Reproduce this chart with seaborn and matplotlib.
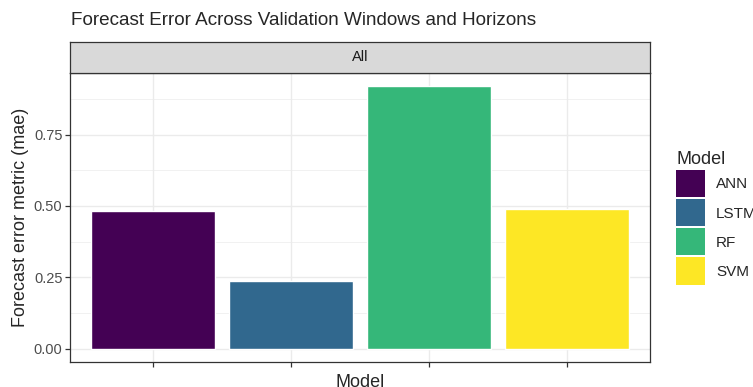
import pandas as pd
import matplotlib.pyplot as plt
import seaborn as sns
from matplotlib.patches import Patch

# valores
models = ['ANN', 'LSTM', 'RF', 'SVM']
mae = [0.483, 0.238, 0.919, 0.489]
colors = ['#440154', '#31688E', '#35B779', '#FDE725']

df = pd.DataFrame({'Model': models, 'mae': mae})

sns.set_style('white')
plt.rcParams['font.family'] = ['Liberation Sans', 'DejaVu Sans']

fig = plt.figure(figsize=(7.53, 3.87), dpi=100)
ax = fig.add_axes([0.093, 0.0646, 0.77, 0.7464])
strip = fig.add_axes([0.093, 0.811, 0.77, 0.081])

sns.barplot(data=df, x='Model', y='mae', hue='Model', palette=colors,
            width=0.9, dodge=False, legend=False, ax=ax, saturation=1)

ax.set_xlim(-0.6, 3.6)
ax.set_ylim(-0.046, 0.965)
ax.set_yticks([0, 0.25, 0.5, 0.75])
ax.set_yticklabels(['0.00', '0.25', '0.50', '0.75'])
ax.set_yticks([0.125, 0.375, 0.625, 0.875], minor=True)
ax.set_xticks(range(4))
ax.set_xticklabels([])
ax.set_axisbelow(True)
ax.grid(True, which='major', color='#EBEBEB', lw=1.0)
ax.grid(True, which='minor', axis='y', color='#EBEBEB', lw=0.5)
for s in ax.spines.values():
    s.set_color('#333333')
    s.set_linewidth(0.9)
ax.tick_params(axis='both', which='major', length=3.5, color='#333333', width=0.9,
               labelsize=10.5, labelcolor='#4D4D4D', bottom=True, left=True, pad=2)
ax.tick_params(which='minor', length=0)
ax.set_xlabel('Model', fontsize=13, labelpad=3)
ax.set_ylabel('Forecast error metric (mae)', fontsize=13, labelpad=3)

# faixa do facet
strip.set_facecolor('#D9D9D9')
strip.set_xticks([])
strip.set_yticks([])
for s in strip.spines.values():
    s.set_color('#333333')
    s.set_linewidth(0.9)
strip.text(0.5, 0.5, 'All', ha='center', va='center', fontsize=10.5, color='#1A1A1A',
           transform=strip.transAxes)

fig.text(0.094, 0.948, 'Forecast Error Across Validation Windows and Horizons',
         fontsize=13.6, ha='left', va='center')

handles = [Patch(facecolor=c, edgecolor='none') for c in colors]
fig.legend(handles, models, title='Model', loc='upper left', bbox_to_anchor=(0.89, 0.625),
           frameon=False, fontsize=11, title_fontsize=13, handlelength=1.85, handleheight=2.35,
           handletextpad=0.75, labelspacing=0.13, alignment='left', borderaxespad=0)

plt.savefig('out.png', dpi=100)
